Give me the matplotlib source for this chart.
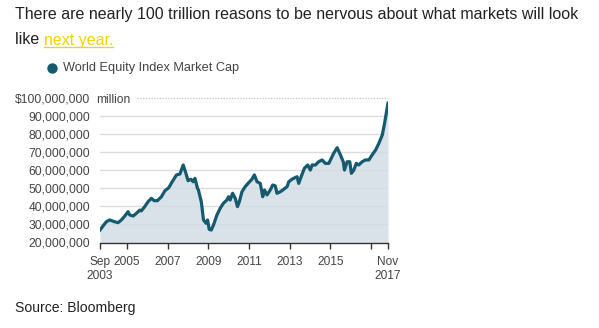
import numpy as np
import matplotlib.pyplot as plt
from matplotlib.lines import Line2D
from matplotlib.ticker import FuncFormatter

plt.rcParams['font.family'] = ['Liberation Sans', 'DejaVu Sans']

# World equity index market cap, in trillions of dollars (= millions of millions)
years = [2003.67, 2003.82, 2003.98, 2004.15, 2004.39, 2004.56, 2004.72, 2004.89,
         2005.05, 2005.13, 2005.30, 2005.46, 2005.63, 2005.70, 2005.87, 2006.03,
         2006.20, 2006.33, 2006.49, 2006.69, 2006.86, 2007.05, 2007.22, 2007.43,
         2007.60, 2007.76, 2007.87, 2008.00, 2008.14, 2008.25, 2008.34, 2008.46,
         2008.51, 2008.65, 2008.76, 2008.88, 2008.96, 2009.04, 2009.14, 2009.25,
         2009.42, 2009.58, 2009.74, 2009.91, 2009.99, 2010.07, 2010.19, 2010.32,
         2010.43, 2010.52, 2010.65, 2010.81, 2010.98, 2011.14, 2011.26, 2011.39,
         2011.55, 2011.67, 2011.76, 2011.88, 2012.04, 2012.16, 2012.29, 2012.37,
         2012.54, 2012.70, 2012.87, 2012.95, 2013.11, 2013.19, 2013.36, 2013.44,
         2013.56, 2013.72, 2013.88, 2014.01, 2014.10, 2014.26, 2014.42, 2014.59,
         2014.75, 2014.92, 2015.00, 2015.16, 2015.33, 2015.49, 2015.63, 2015.69,
         2015.82, 2015.95, 2016.03, 2016.15, 2016.27, 2016.39, 2016.56, 2016.72,
         2016.89, 2017.05, 2017.22, 2017.38, 2017.55, 2017.66, 2017.76, 2017.83]
cap_tn = [26.9, 29.2, 31.5, 32.5, 31.5, 31.0, 32.5, 34.7,
          37.1, 35.3, 34.7, 36.2, 38.0, 37.5, 39.9, 42.6,
          44.5, 43.2, 43.2, 45.4, 48.7, 50.4, 53.7, 57.5,
          58.0, 63.0, 59.3, 54.3, 55.1, 53.7, 55.6, 50.1,
          49.1, 42.6, 32.5, 30.7, 32.5, 27.3, 26.9, 29.7,
          35.3, 39.0, 41.8, 43.6, 45.4, 43.6, 47.3, 44.5,
          39.9, 42.6, 48.2, 51.0, 53.2, 55.1, 57.5, 53.7,
          52.8, 45.4, 49.1, 46.4, 49.1, 51.9, 51.4, 47.3,
          48.2, 49.5, 51.0, 53.7, 55.1, 55.6, 56.5, 52.8,
          56.5, 61.2, 63.0, 60.2, 63.0, 63.0, 64.8, 65.8,
          63.9, 63.9, 65.8, 69.5, 72.6, 68.6, 64.8, 60.2,
          64.8, 64.8, 58.4, 60.2, 63.9, 63.0, 64.8, 65.8,
          65.8, 68.6, 71.3, 75.0, 79.7, 86.1, 92.6, 97.3]

x_ticks = [2003.67, 2005, 2007, 2009, 2011, 2013, 2015, 2017, 2017.83]
x_labels = ['Sep\n2003', '2005', '2007', '2009', '2011', '2013', '2015', '', 'Nov\n2017']
y_ticks = [20e6, 30e6, 40e6, 50e6, 60e6, 70e6, 80e6, 90e6, 100e6]

line_color = '#155a6e'
fill_color = '#d2dde4'
text_color = '#444444'

W, H = 599, 328
fig = plt.figure(figsize=(W / 100, H / 100), dpi=100)
ax = fig.add_axes([100 / W, 1 - 242.5 / H, 288 / W, 144.2 / H])

values = np.array(cap_tn) * 1e6   # in millions
ax.fill_between(years, 20e6, values, color=fill_color, alpha=0.85, lw=0, zorder=2)
ax.plot(years, values, color=line_color, lw=2.3, solid_joinstyle='round', zorder=3)

ax.set_xlim(2003.67, 2017.83)
ax.set_ylim(20e6, 100e6)
ax.set_xticks(x_ticks)
ax.set_xticklabels(x_labels)
ax.set_yticks(y_ticks)

def fmt(v, pos):
    s = f'{v:,.0f}'
    return '$' + s if v >= 100e6 else s

ax.yaxis.set_major_formatter(FuncFormatter(fmt))
for y in y_ticks[1:-1]:
    ax.axhline(y, color='#dcdcdc', lw=1, zorder=1)
# top grid line starts after the "million" suffix and is dotted
ax.axhline(100e6, xmin=(137 - 100) / 288, color='#cccccc', lw=1, ls=(0, (1, 1)),
           zorder=1, clip_on=False)

for side in ['left', 'right', 'top']:
    ax.spines[side].set_visible(False)
ax.spines['bottom'].set_color('#333333')
ax.spines['bottom'].set_linewidth(1)
ax.spines['bottom'].set_zorder(4)
ax.tick_params(axis='x', length=4, width=1, color='#333333', pad=6,
               labelsize=8.6, labelcolor=text_color)
ax.tick_params(axis='y', length=0, pad=7, labelsize=8.7, labelcolor=text_color)

ax.text(-4 / 288, 100e6, 'million', transform=ax.get_yaxis_transform(),
        ha='left', va='center_baseline', fontsize=8.7, color=text_color, zorder=5)

# headline
fig.text(15 / W, 1 - 15 / H, 'There are nearly 100 trillion reasons to be nervous about what markets will look',
         fontsize=11.5, color='#222222', va='center', ha='left')
t1 = fig.text(15 / W, 1 - 40 / H, 'like ', fontsize=11.5, color='#222222', va='center', ha='left')
fig.canvas.draw()
r = fig.canvas.get_renderer()
bb = t1.get_window_extent(r)
t2 = fig.text(bb.x1 / W, 1 - 40 / H, 'next year.', fontsize=11.5, color='#f3d400',
              va='center', ha='left')
bb2 = t2.get_window_extent(r)
fig.add_artist(Line2D([bb2.x0 / W, bb2.x1 / W], [1 - 47 / H, 1 - 47 / H],
                      color='#f3d400', lw=0.9))

# legend
fig.add_artist(Line2D([52 / W], [1 - 68 / H], marker='o', markersize=6.5,
                      color=line_color, lw=0))
fig.text(63 / W, 1 - 68 / H, 'World Equity Index Market Cap', fontsize=9.2,
         color=text_color, va='center', ha='left')

fig.text(15 / W, 1 - 308 / H, 'Source: Bloomberg', fontsize=10.1, color='#222222',
         va='center', ha='left')

fig.savefig('out.png', dpi=100)
